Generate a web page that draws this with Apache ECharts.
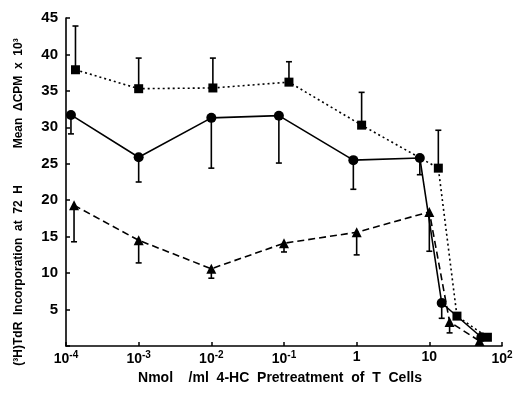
<!DOCTYPE html>
<html><head><meta charset="utf-8">
<script src="https://cdn.jsdelivr.net/npm/echarts@6/dist/echarts.min.js"></script>
<style>html,body{margin:0;padding:0;background:#fff}#c{width:519px;height:396px}</style>
</head><body><div id="c"></div>
<script>
// Squares (dotted line), error bars upward
const xSquares = [1.35e-4, 1e-3, 1.05e-2, 0.117, 1.17, 13.3, 24, 63];
const ySquares = [37.9, 35.3, 35.4, 36.2, 30.3, 24.4, 4.1, 1.2];
const sqErrHi  = [43.9, 39.5, 39.5, 39.0, 34.8, 29.6, null, null];
// Circles (solid line), error bars downward
const xCircles = [1.17e-4, 1e-3, 1e-2, 0.085, 0.9, 7.4, 14.8, 52];
const yCircles = [31.7, 25.9, 31.3, 31.6, 25.5, 25.8, 5.9, 1.2];
const ciErrLo  = [29.1, 22.5, 24.4, 25.1, 21.5, 23.5, 3.8, null];
// Triangles (dashed line), error bars downward
const xTriangles = [1.29e-4, 1e-3, 1e-2, 0.1, 1, 10, 19, 49];
const yTriangles = [19.3, 14.5, 10.6, 14.1, 15.6, 18.4, 3.3, 0.7];
const trErrLo    = [14.3, 11.4, 9.3, 12.9, 12.5, 13.0, 1.8, null];

const yTicks = [5, 10, 15, 20, 25, 30, 35, 40, 45];

const FONT = '"Liberation Sans", Arial, sans-serif';
const pts = (xs, ys) => xs.map((x, i) => [x, ys[i]]);
const errUp = (xs, ys, hi) => xs.map((x, i) => hi[i] == null ? null : [x, ys[i], hi[i]]).filter(Boolean);
const errDown = (xs, ys, lo) => xs.map((x, i) => lo[i] == null ? null : [x, lo[i], ys[i]]).filter(Boolean);

function renderErr(capAt) {
  return function (params, api) {
    const x = api.value(0);
    const a = api.coord([x, api.value(1)]);
    const b = api.coord([x, api.value(2)]);
    const cap = capAt === 'top' ? b : a;
    const st = { stroke: '#000', lineWidth: 1.6 };
    return {
      type: 'group',
      children: [
        { type: 'line', shape: { x1: a[0], y1: a[1], x2: b[0], y2: b[1] }, style: st },
        { type: 'line', shape: { x1: cap[0] - 3, y1: cap[1], x2: cap[0] + 3, y2: cap[1] }, style: st }
      ]
    };
  };
}

const chart = echarts.init(document.getElementById('c'));
chart.setOption({
  backgroundColor: '#fff',
  animation: false,
  grid: { left: 66, right: 17, top: 18, bottom: 50 },
  xAxis: {
    type: 'log', logBase: 10, min: 1e-4, max: 100,
    axisLine: { lineStyle: { color: '#000', width: 1.6 } },
    axisTick: { inside: true, length: 4, lineStyle: { color: '#000', width: 1.5 } },
    minorTick: { show: false },
    splitLine: { show: false },
    axisLabel: {
      margin: 4,
      formatter: function (v) {
        const e = Math.round(Math.log10(v));
        if (e === 0) return '{b|1}';
        if (e === 1) return '{b|10}';
        return '{b|10}{s|' + (e < 0 ? '-' + (-e) : e) + '}';
      },
      rich: {
        b: { fontFamily: FONT, fontSize: 14, fontWeight: 'bold', color: '#000' },
        s: { fontFamily: FONT, fontSize: 10, fontWeight: 'bold', color: '#000', padding: [0, 0, 9, 0] }
      }
    }
  },
  yAxis: {
    type: 'value', min: 0, max: 45, interval: 5,
    axisLine: { show: true, lineStyle: { color: '#000', width: 1.6 } },
    axisTick: { show: true, inside: true, length: 4, lineStyle: { color: '#000', width: 1.5 } },
    splitLine: { show: false },
    axisLabel: {
      margin: 8,
      fontFamily: FONT, fontSize: 15, fontWeight: 'bold', color: '#000',
      formatter: function (v) { return yTicks.indexOf(v) >= 0 ? String(v) : ''; }
    }
  },
  graphic: [
    {
      type: 'text', x: 19, y: 202, rotation: Math.PI / 2,
      style: {
        text: '(³H)TdR  Incorporation  at  72  H           Mean  ΔCPM  x  10³',
        font: 'bold 12px ' + FONT, fill: '#000',
        textAlign: 'center', textVerticalAlign: 'middle'
      }
    },
    {
      type: 'text', x: 280, y: 378,
      style: {
        text: 'Nmol    /ml  4-HC  Pretreatment  of  T  Cells',
        font: 'bold 14px ' + FONT, fill: '#000',
        textAlign: 'center', textVerticalAlign: 'middle'
      }
    }
  ],
  series: [
    {
      type: 'line', data: pts(xSquares, ySquares),
      symbol: 'rect', symbolSize: 9, showAllSymbol: true,
      itemStyle: { color: '#000' },
      lineStyle: { color: '#000', width: 1.6, type: [2, 3] }, z: 3
    },
    {
      type: 'line', data: pts(xCircles, yCircles),
      symbol: 'circle', symbolSize: 10,
      itemStyle: { color: '#000' },
      lineStyle: { color: '#000', width: 1.6, type: 'solid' }, z: 3
    },
    {
      type: 'line', data: pts(xTriangles, yTriangles),
      symbol: 'triangle', symbolSize: 10,
      itemStyle: { color: '#000' },
      lineStyle: { color: '#000', width: 1.6, type: [7, 4] }, z: 3
    },
    { type: 'custom', renderItem: renderErr('top'), data: errUp(xSquares, ySquares, sqErrHi), z: 2 },
    { type: 'custom', renderItem: renderErr('bottom'), data: errDown(xCircles, yCircles, ciErrLo), z: 2 },
    { type: 'custom', renderItem: renderErr('bottom'), data: errDown(xTriangles, yTriangles, trErrLo), z: 2 }
  ]
});
</script></body></html>
